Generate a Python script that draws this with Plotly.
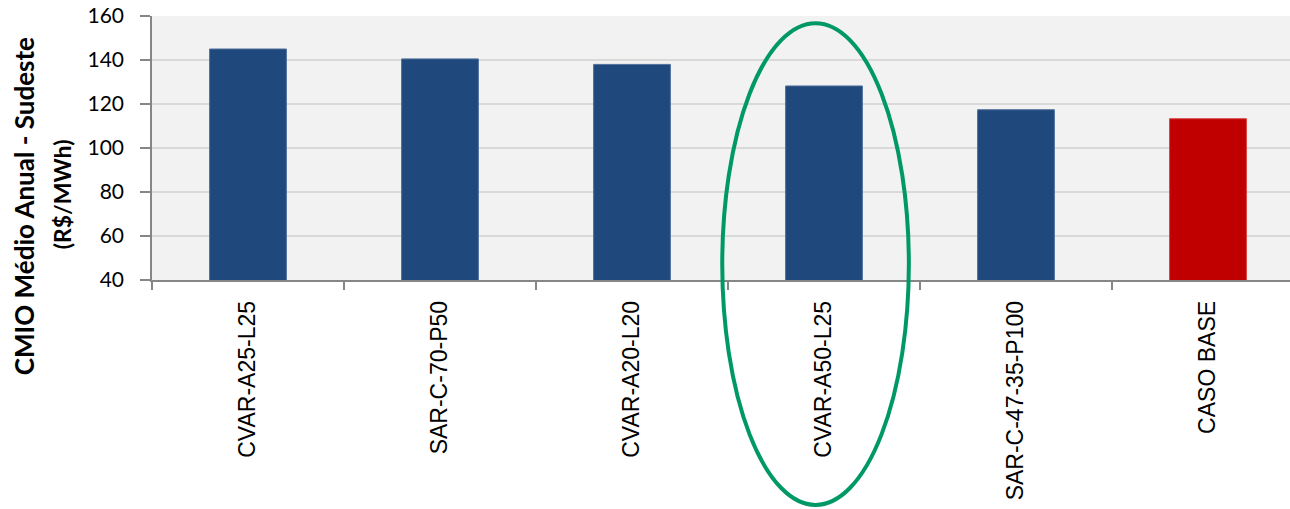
import plotly.graph_objects as go

# scenario names and annual average CMO (R$/MWh), Sudeste
cenarios = ["CVAR-A25-L25", "SAR-C-70-P50", "CVAR-A20-L20",
            "CVAR-A50-L25", "SAR-C-47-35-P100", "CASO BASE"]
cmo = [145.0, 140.5, 138.0, 128.2, 117.4, 113.3]
cores = ["#1F497D"] * 5 + ["#C00000"]
bordas = ["#4F6F9A"] * 5 + ["#D84040"]

y_ticks = [40, 60, 80, 100, 120, 140, 160]
titulo_y = ["CMIO Médio Anual - Sudeste", "(R$/MWh)"]

fig = go.Figure()
fig.add_trace(go.Bar(
    x=cenarios, y=cmo,
    marker=dict(color=cores, line=dict(color=bordas, width=1)),
    width=0.4,
))

# green ellipse highlighting CVAR-A50-L25
fig.add_shape(type="circle", xref="x domain", yref="paper",
              x0=0.495, x1=0.657, y0=-0.852, y1=0.973,
              line=dict(color="#009966", width=4), layer="above")

# y-axis title, two lines centred lower than the plot middle (as in the original)
for texto, xp, yp, tam in zip(titulo_y, [-0.111, -0.078], [0.28, 0.325], [26, 23]):
    fig.add_annotation(text="<b>" + texto + "</b>", textangle=-90,
                       xref="paper", yref="paper", x=xp, y=yp,
                       xanchor="center", yanchor="middle", showarrow=False,
                       font=dict(family="Lato", size=tam, color="black"))

# the original plot area runs past the right edge of the picture,
# so the figure is a bit wider than the window and gets clipped
fig.update_layout(
    width=1304, height=509,
    margin=dict(l=152, r=0, t=16, b=229),
    paper_bgcolor="white",
    plot_bgcolor="#F2F2F2",
    showlegend=False,
    font=dict(family="Liberation Sans", color="black"),
)
fig.update_yaxes(
    range=[40, 160], tickvals=y_ticks, automargin=False,
    showgrid=True, gridcolor="#D9D9D9", gridwidth=2,
    showline=True, linecolor="#868686", linewidth=1.5,
    ticks="outside", ticklen=10, tickcolor="#868686", tickwidth=1.5,
    ticklabelstandoff=12, ticklabeloverflow="allow",
    tickfont=dict(family="Lato", size=21),
    zeroline=False,
)
fig.update_xaxes(
    tickangle=-90, tickson="boundaries", automargin=False,
    showline=True, linecolor="#868686", linewidth=1.5,
    ticks="outside", ticklen=8, tickcolor="#868686", tickwidth=1.5,
    ticklabelstandoff=10, ticklabeloverflow="allow",
    tickfont=dict(family="Liberation Sans", size=23),
    showgrid=False,
)

# drop the page's default body margin so the figure sits at the top-left corner
fig.write_html("out.html", config={"displayModeBar": False},
               post_script="document.body.style.margin='0';document.body.style.overflow='hidden';")
